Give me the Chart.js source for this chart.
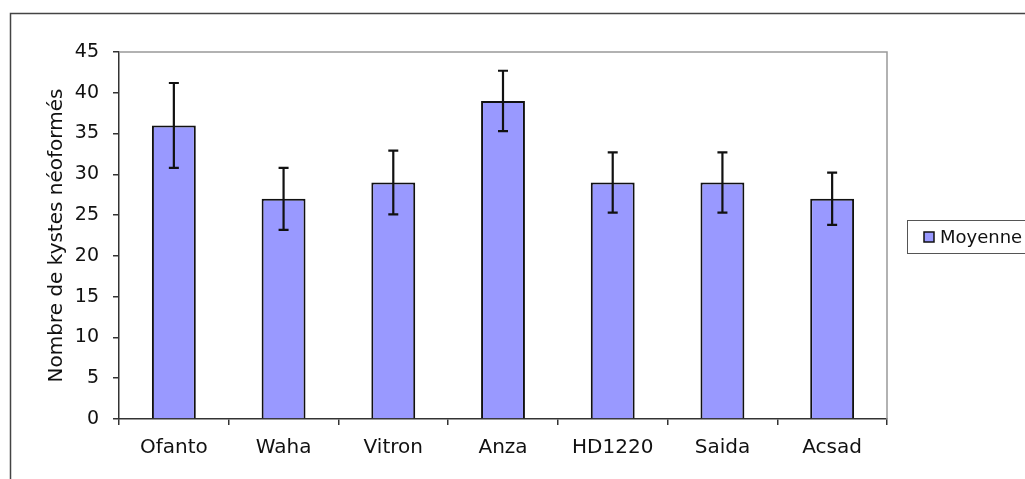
<!DOCTYPE html>
<html>
<head>
<meta charset="utf-8">
<script src="https://cdn.jsdelivr.net/npm/chart.js@4"></script>
<style>
  html, body { margin: 0; padding: 0; background: #fff; overflow: hidden; }
  #wrap { width: 1025px; height: 479px; }
</style>
</head>
<body>
<div id="wrap"><canvas id="chart" width="1025" height="479"></canvas></div>
<script>
const categories = ['Ofanto', 'Waha', 'Vitron', 'Anza', 'HD1220', 'Saida', 'Acsad'];
const moyenne = [36, 27, 29, 39, 29, 29, 27];
const erreur = [5.2, 3.8, 3.9, 3.7, 3.7, 3.7, 3.2];
const yMax = 45;
const yStep = 5;
const seriesLabel = 'Moyenne';
const yTitle = 'Nombre de kystes néoformés';

const FONT = 'DejaVu Sans';

// page frame + grey plot border
const framePlugin = {
  id: 'frame',
  beforeDraw(chart) {
    const ctx = chart.ctx;
    ctx.save();
    ctx.fillStyle = '#fff';
    ctx.fillRect(0, 0, chart.width, chart.height);
    ctx.strokeStyle = '#444';
    ctx.lineWidth = 1.5;
    ctx.beginPath();
    ctx.moveTo(10.5, chart.height);
    ctx.lineTo(10.5, 13.5);
    ctx.lineTo(chart.width, 13.5);
    ctx.stroke();
    ctx.restore();
  },
  beforeDatasetsDraw(chart) {
    const { ctx, chartArea: a } = chart;
    ctx.save();
    ctx.strokeStyle = '#999';
    ctx.lineWidth = 1.5;
    ctx.beginPath();
    ctx.moveTo(a.left, a.top);
    ctx.lineTo(a.right, a.top);
    ctx.lineTo(a.right, a.bottom);
    ctx.stroke();
    ctx.restore();
  }
};

const errorBars = {
  id: 'errorBars',
  afterDatasetsDraw(chart) {
    const ctx = chart.ctx;
    const y = chart.scales.y;
    const meta = chart.getDatasetMeta(0);
    ctx.save();
    ctx.strokeStyle = '#111';
    ctx.lineWidth = 2.2;
    meta.data.forEach((bar, i) => {
      const top = y.getPixelForValue(moyenne[i] + erreur[i]);
      const bot = y.getPixelForValue(moyenne[i] - erreur[i]);
      ctx.beginPath();
      ctx.moveTo(bar.x, top);
      ctx.lineTo(bar.x, bot);
      ctx.moveTo(bar.x - 5, top);
      ctx.lineTo(bar.x + 5, top);
      ctx.moveTo(bar.x - 5, bot);
      ctx.lineTo(bar.x + 5, bot);
      ctx.stroke();
    });
    ctx.restore();
  }
};

const boxLegend = {
  id: 'boxLegend',
  afterDraw(chart) {
    const ctx = chart.ctx;
    ctx.save();
    ctx.fillStyle = '#fff';
    ctx.strokeStyle = '#555';
    ctx.lineWidth = 1;
    ctx.fillRect(907.5, 220.5, 140, 33);
    ctx.strokeRect(907.5, 220.5, 140, 33);
    ctx.fillStyle = '#9999ff';
    ctx.fillRect(924, 232, 10, 10);
    ctx.strokeStyle = '#111';
    ctx.lineWidth = 1.5;
    ctx.strokeRect(924, 232, 10, 10);
    ctx.fillStyle = '#111';
    ctx.font = '18px "' + FONT + '"';
    ctx.textBaseline = 'middle';
    ctx.fillText(seriesLabel, 940, 238);
    ctx.restore();
  }
};

new Chart(document.getElementById('chart'), {
  type: 'bar',
  data: {
    labels: categories,
    datasets: [{
      label: seriesLabel,
      data: moyenne,
      backgroundColor: '#9999ff',
      borderColor: '#111',
      borderWidth: 2,
      barPercentage: 0.4,
      categoryPercentage: 1
    }]
  },
  options: {
    responsive: false,
    animation: false,
    devicePixelRatio: 1,
    layout: { padding: { left: 10, top: 52, right: 138, bottom: 0 } },
    plugins: {
      legend: { display: false },
      tooltip: { enabled: false }
    },
    scales: {
      x: {
        afterFit(s) { s.height = 60; },
        grid: { display: true, drawOnChartArea: false, offset: true, tickLength: 6, color: '#333', lineWidth: 1.5 },
        border: { display: true, color: '#333', width: 1.5 },
        ticks: { color: '#111', padding: 11, font: { family: FONT, size: 20 } }
      },
      y: {
        min: 0,
        max: yMax,
        afterFit(s) { s.width = 109; },
        grid: { display: true, drawOnChartArea: false, tickLength: 6, color: '#333', lineWidth: 1.5 },
        border: { display: true, color: '#333', width: 1.5 },
        ticks: { stepSize: yStep, color: '#111', padding: 14, font: { family: FONT, size: 19 } },
        title: {
          display: true,
          text: yTitle,
          color: '#111',
          padding: { top: 35, bottom: 0 },
          font: { family: FONT, size: 20 }
        }
      }
    }
  },
  plugins: [framePlugin, errorBars, boxLegend]
});
</script>
</body>
</html>
